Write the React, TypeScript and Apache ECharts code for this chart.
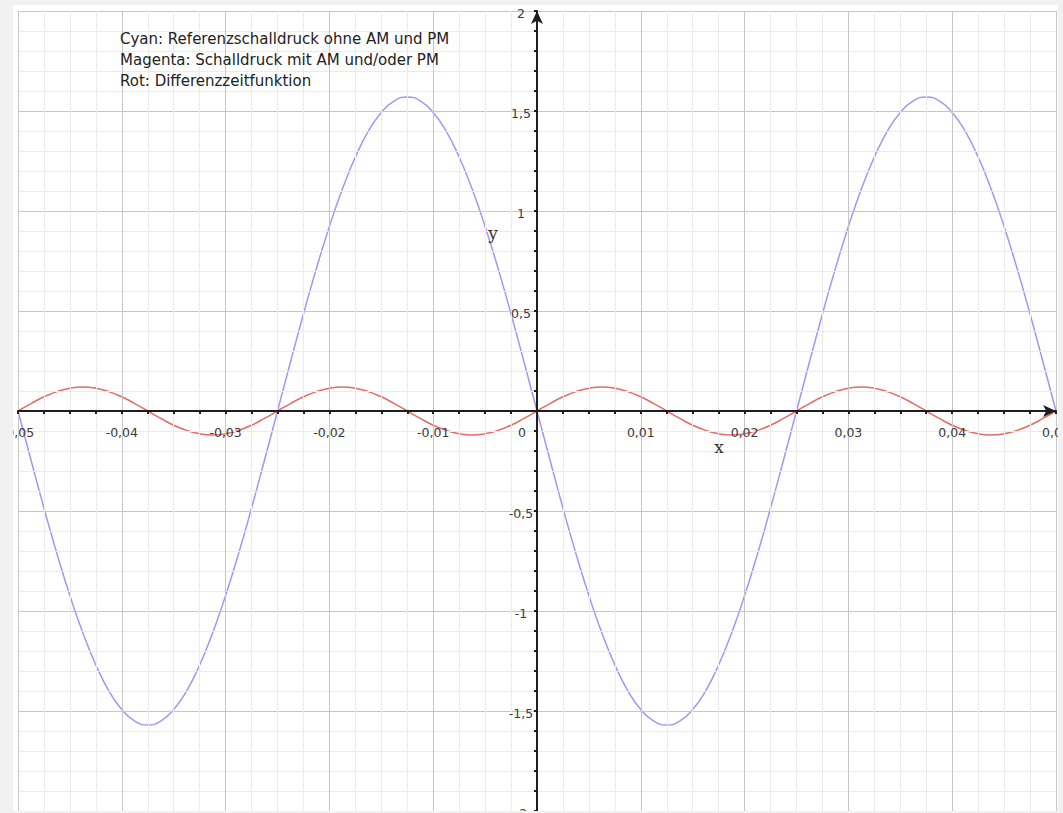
import { useEffect, useRef } from "react";
import * as echarts from "echarts";

// Sample positions along the time axis (seconds)
const xValues = [
  -0.05, -0.04875, -0.0475, -0.04625, -0.045, -0.04375, -0.0425, -0.04125, -0.04, -0.03875,
  -0.0375, -0.03625, -0.035, -0.03375, -0.0325, -0.03125, -0.03, -0.02875, -0.0275, -0.02625,
  -0.025, -0.02375, -0.0225, -0.02125, -0.02, -0.01875, -0.0175, -0.01625, -0.015, -0.01375,
  -0.0125, -0.01125, -0.01, -0.00875, -0.0075, -0.00625, -0.005, -0.00375, -0.0025, -0.00125,
  0,
  0.00125, 0.0025, 0.00375, 0.005, 0.00625, 0.0075, 0.00875, 0.01, 0.01125, 0.0125,
  0.01375, 0.015, 0.01625, 0.0175, 0.01875, 0.02, 0.02125, 0.0225, 0.02375, 0.025,
  0.02625, 0.0275, 0.02875, 0.03, 0.03125, 0.0325, 0.03375, 0.035, 0.03625, 0.0375,
  0.03875, 0.04, 0.04125, 0.0425, 0.04375, 0.045, 0.04625, 0.0475, 0.04875, 0.05,
];

// Sound pressure (lavender curve)
const pressureValues = [
  0, -0.245, -0.485, -0.713, -0.923, -1.11, -1.27, -1.399, -1.493, -1.551,
  -1.57, -1.551, -1.493, -1.399, -1.27, -1.11, -0.923, -0.713, -0.485, -0.245,
  0, 0.245, 0.485, 0.713, 0.923, 1.11, 1.27, 1.399, 1.493, 1.551,
  1.57, 1.551, 1.493, 1.399, 1.27, 1.11, 0.923, 0.713, 0.485, 0.245,
  0,
  -0.245, -0.485, -0.713, -0.923, -1.11, -1.27, -1.399, -1.493, -1.551, -1.57,
  -1.551, -1.493, -1.399, -1.27, -1.11, -0.923, -0.713, -0.485, -0.245, 0,
  0.245, 0.485, 0.713, 0.923, 1.11, 1.27, 1.399, 1.493, 1.551, 1.57,
  1.551, 1.493, 1.399, 1.27, 1.11, 0.923, 0.713, 0.485, 0.245, 0,
];

// Difference function (red curve)
const differenceValues = [
  0, 0.037, 0.071, 0.097, 0.114, 0.12, 0.114, 0.097, 0.071, 0.037,
  0, -0.037, -0.071, -0.097, -0.114, -0.12, -0.114, -0.097, -0.071, -0.037,
  0, 0.037, 0.071, 0.097, 0.114, 0.12, 0.114, 0.097, 0.071, 0.037,
  0, -0.037, -0.071, -0.097, -0.114, -0.12, -0.114, -0.097, -0.071, -0.037,
  0,
  0.037, 0.071, 0.097, 0.114, 0.12, 0.114, 0.097, 0.071, 0.037, 0,
  -0.037, -0.071, -0.097, -0.114, -0.12, -0.114, -0.097, -0.071, -0.037, 0,
  0.037, 0.071, 0.097, 0.114, 0.12, 0.114, 0.097, 0.071, 0.037, 0,
  -0.037, -0.071, -0.097, -0.114, -0.12, -0.114, -0.097, -0.071, -0.037, 0,
];

// Tick labels placed along the crossing axes
const xTickValues = [-0.05, -0.04, -0.03, -0.02, -0.01, 0, 0.01, 0.02, 0.03, 0.04, 0.05];
const xTickLabels = ["-0,05", "-0,04", "-0,03", "-0,02", "-0,01", "0", "0,01", "0,02", "0,03", "0,04", "0,05"];
const yTickValues = [-2, -1.5, -1, -0.5, 0.5, 1, 1.5, 2];
const yTickLabels = ["-2", "-1,5", "-1", "-0,5", "0,5", "1", "1,5", "2"];

const legendLines = [
  "Cyan: Referenzschalldruck ohne AM und PM",
  "Magenta: Schalldruck mit AM und/oder PM",
  "Rot: Differenzzeitfunktion",
];

const AXIS_COLOR = "#1e1e1e";
const LABEL_COLOR = "#3a3a3a";
const LABEL_FONT = "DejaVu Sans";
const FRAME_COLOR = "#f1f1f1";

export default function App() {
  const ref = useRef<HTMLDivElement>(null);

  useEffect(() => {
    if (!ref.current) return;
    const chart = echarts.init(ref.current, undefined, { renderer: "svg" });

    const pressureData = xValues.map((x, i) => [x, pressureValues[i]]);
    const differenceData = xValues.map((x, i) => [x, differenceValues[i]]);

    const tickStyle = { color: AXIS_COLOR, width: 2 };
    const axisLineStyle = {
      onZero: true,
      lineStyle: { color: AXIS_COLOR, width: 2 },
      symbol: ["none", "arrow"],
      symbolSize: [9, 13],
    };

    chart.setOption({
      animation: false,
      backgroundColor: "#ffffff",
      grid: {
        left: 18,
        right: 7,
        top: 11,
        bottom: 2,
        containLabel: false,
        outerBoundsMode: "none",
      },
      xAxis: {
        type: "value",
        min: -0.05,
        max: 0.05,
        interval: 0.01,
        z: 5,
        axisLine: axisLineStyle,
        axisTick: { show: true, length: 3, lineStyle: tickStyle },
        minorTick: { show: true, splitNumber: 4, length: 3, lineStyle: tickStyle },
        splitLine: { show: true, lineStyle: { color: "#c6c6c6", width: 1 } },
        minorSplitLine: { show: true, lineStyle: { color: "#ebebeb", width: 1 } },
        axisLabel: { show: false },
      },
      yAxis: {
        type: "value",
        min: -2,
        max: 2,
        interval: 0.5,
        z: 5,
        axisLine: axisLineStyle,
        axisTick: { show: true, length: 3, lineStyle: tickStyle },
        minorTick: { show: true, splitNumber: 5, length: 3, lineStyle: tickStyle },
        splitLine: { show: true, lineStyle: { color: "#c6c6c6", width: 1 } },
        minorSplitLine: { show: true, lineStyle: { color: "#ebebeb", width: 1 } },
        axisLabel: { show: false },
      },
      series: [
        {
          name: "Schalldruck",
          type: "line",
          data: pressureData,
          smooth: true,
          showSymbol: false,
          lineStyle: { color: "#a296ef", width: 1.5 },
          z: 3,
        },
        {
          name: "Differenzzeitfunktion",
          type: "line",
          data: differenceData,
          smooth: true,
          showSymbol: false,
          lineStyle: { color: "#e26c66", width: 1.5 },
          z: 4,
        },
      ],
    });

    // Tick labels sit next to the axes that cross at the origin
    const toPx = (v: [number, number]) =>
      chart.convertToPixel({ gridIndex: 0 }, v) as number[];
    const origin = toPx([0, 0]);
    const labelStyle = {
      fontSize: 12.5,
      fontFamily: LABEL_FONT,
      fill: LABEL_COLOR,
      align: "center",
      verticalAlign: "middle",
    };

    const xLabelEls = xTickValues.map((v, i) => {
      const p = toPx([v, 0]);
      return {
        type: "text",
        x: v === 0 ? p[0] - 15 : p[0],
        y: origin[1] + 21,
        z: 20,
        style: { ...labelStyle, text: xTickLabels[i] },
      };
    });
    const yLabelEls = yTickValues.map((v, i) => {
      const p = toPx([0, v]);
      return {
        type: "text",
        x: origin[0] - 16,
        y: p[1] + 2,
        z: 20,
        style: { ...labelStyle, text: yTickLabels[i] },
      };
    });

    chart.setOption({
      graphic: [
        ...xLabelEls,
        ...yLabelEls,
        {
          type: "text",
          left: 120,
          top: 28,
          z: 20,
          style: {
            text: legendLines.join("\n"),
            fontSize: 15,
            fontFamily: LABEL_FONT,
            fill: "#222222",
            lineHeight: 21,
          },
        },
        {
          type: "text",
          x: origin[0] + 182,
          y: origin[1] + 36,
          z: 20,
          style: { text: "x", fontSize: 17, fontFamily: "DejaVu Serif", fill: "#333333", align: "center", verticalAlign: "middle" },
        },
        {
          type: "text",
          x: origin[0] - 44,
          y: origin[1] - 178,
          z: 20,
          style: { text: "y", fontSize: 17, fontFamily: "DejaVu Serif", fill: "#333333", align: "center", verticalAlign: "middle" },
        },
        // light frame around the drawing area
        { type: "rect", left: 0, top: 0, z: 50, shape: { width: 13, height: 813 }, style: { fill: FRAME_COLOR } },
        { type: "rect", left: 0, top: 0, z: 50, shape: { width: 1063, height: 5 }, style: { fill: FRAME_COLOR } },
        { type: "rect", left: 1058, top: 0, z: 50, shape: { width: 5, height: 813 }, style: { fill: FRAME_COLOR } },
        { type: "rect", left: 0, top: 811, z: 50, shape: { width: 1063, height: 2 }, style: { fill: FRAME_COLOR } },
      ],
    });

    return () => chart.dispose();
  }, []);

  return (
    <div
      ref={ref}
      style={{ position: "absolute", left: 0, top: 0, width: 1063, height: 813 }}
    />
  );
}
